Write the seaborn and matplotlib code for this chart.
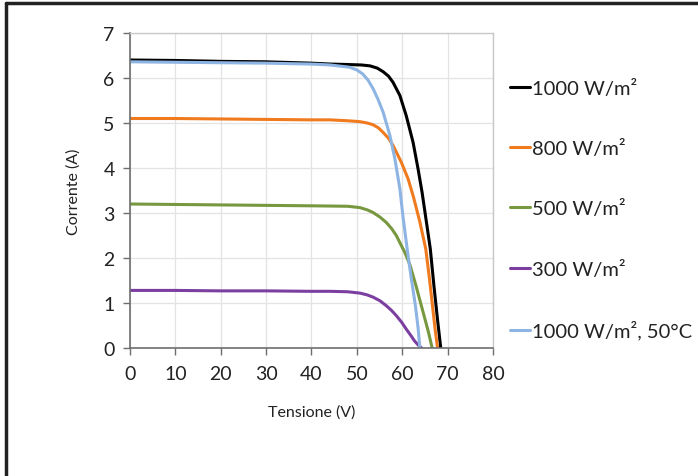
import numpy as np
import pandas as pd
import matplotlib
matplotlib.use("Agg")
import matplotlib.pyplot as plt
import seaborn as sns
from matplotlib.lines import Line2D

# I-V curves
v_1000 = [0, 10, 20, 30, 40, 44.1, 48, 51, 52.9, 54.5, 55.8, 57.0, 58.0, 59.5, 60.9, 62.4, 63.5, 64.4,
          65.7, 66.2, 67.0, 67.8, 68.5]
i_1000 = [6.40, 6.39, 6.37, 6.36, 6.33, 6.31, 6.30, 6.29, 6.27, 6.22, 6.14, 6.04, 5.90, 5.61, 5.16, 4.57,
          3.98, 3.45, 2.55, 2.20, 1.38, 0.62, 0.0]

v_800 = [0, 10, 20, 30, 40, 44.1, 48, 50.7, 52.3, 53.6, 54.8, 55.8, 57.0, 58.0, 59.8, 61.3, 62.5, 63.9,
         65.2, 66.0, 66.7, 67.3, 67.8]
i_800 = [5.10, 5.10, 5.09, 5.08, 5.07, 5.07, 5.05, 5.03, 5.00, 4.96, 4.89, 4.79, 4.66, 4.50, 4.13, 3.76,
         3.35, 2.80, 2.20, 1.55, 0.92, 0.38, 0.0]

v_500 = [0, 10, 20, 30, 40, 44.1, 48, 50.7, 52.3, 53.6, 55.1, 56.5, 57.7, 58.7, 60.6, 61.7, 63.0, 64.6,
         65.8, 66.6]
i_500 = [3.20, 3.19, 3.18, 3.17, 3.16, 3.155, 3.15, 3.12, 3.07, 3.01, 2.91, 2.79, 2.65, 2.50, 2.12, 1.85,
         1.40, 0.80, 0.35, 0.0]

v_300 = [0, 10, 20, 30, 40, 44.1, 48, 50.7, 52.3, 53.6, 55.1, 56.5, 57.6, 58.7, 59.9, 60.9, 61.9, 62.7,
         63.6, 64.3]
i_300 = [1.28, 1.28, 1.27, 1.27, 1.26, 1.26, 1.25, 1.22, 1.18, 1.13, 1.05, 0.94, 0.84, 0.72, 0.57, 0.42,
         0.28, 0.16, 0.06, 0.0]

v_1000_50 = [0, 10, 20, 30, 40, 44.1, 48.4, 50.0, 51.3, 52.5, 53.6, 54.7, 55.8, 57.3, 58.4, 59.5, 60.2,
             61.1, 62.0, 62.9, 63.5, 63.9]
i_1000_50 = [6.36, 6.35, 6.34, 6.33, 6.31, 6.29, 6.24, 6.18, 6.09, 5.95, 5.76, 5.52, 5.24, 4.72, 4.20,
             3.53, 2.90, 2.20, 1.55, 0.95, 0.45, 0.0]

labels = ["1000 W/m²", "800 W/m²", "500 W/m²", "300 W/m²", "1000 W/m², 50°C"]
colors = ["#000000", "#f07a1e", "#77983f", "#7b3fa0", "#8db4e2"]

series = [(v_1000, i_1000), (v_800, i_800), (v_500, i_500), (v_300, i_300), (v_1000_50, i_1000_50)]
df = pd.concat([
    pd.DataFrame({"Tensione": v, "Corrente": c, "serie": lab})
    for (v, c), lab in zip(series, labels)
], ignore_index=True)

sns.set_theme(style="white")
plt.rcParams["font.family"] = ["Lato", "DejaVu Sans"]

fig = plt.figure(figsize=(6.98, 4.77), dpi=100)
ax = fig.add_axes([0.1862, 0.2683, 0.52, 0.6604])

sns.lineplot(data=df, x="Tensione", y="Corrente", hue="serie", hue_order=labels,
             palette=colors, sort=False, estimator=None, linewidth=2.2, ax=ax)

ax.set_xlim(0, 80)
ax.set_ylim(0, 7)
ax.set_xticks(range(0, 81, 10))
ax.set_yticks(range(0, 8))
ax.grid(True, color="#e3e3e3", linewidth=0.9)
ax.set_axisbelow(True)
for s in ["top", "right"]:
    ax.spines[s].set_color("#c8c8c8")
    ax.spines[s].set_linewidth(1.0)
for s in ["left", "bottom"]:
    ax.spines[s].set_color("#6e6e6e")
    ax.spines[s].set_linewidth(1.2)
ax.tick_params(axis="both", which="both", direction="out", length=5, width=1,
               color="#6e6e6e", labelsize=14, labelcolor="#222222",
               bottom=True, left=True)
ax.tick_params(axis="x", pad=7)
ax.tick_params(axis="y", pad=6)
ax.set_xlabel("Tensione (V)", fontsize=11.5, color="#222222", labelpad=16)
ax.set_ylabel("Corrente (A)", fontsize=11.5, color="#222222", labelpad=16)

leg = ax.legend(loc="upper left", bbox_to_anchor=(1.025, 0.88), frameon=False,
                fontsize=14.5, handlelength=1.0, handletextpad=0.1,
                labelspacing=2.1, borderaxespad=0)
for h in leg.get_lines():
    h.set_linewidth(2.2)
for t in leg.get_texts():
    t.set_color("#222222")

# page frame: left and top edges
fig.add_artist(Line2D([6 / 698, 6 / 698], [0, 1 - 4 / 477], transform=fig.transFigure,
                      color="#222222", linewidth=2.5))
fig.add_artist(Line2D([6 / 698, 1], [1 - 4 / 477, 1 - 4 / 477], transform=fig.transFigure,
                      color="#222222", linewidth=2.5))

fig.savefig("out.png", dpi=100, facecolor="white")
